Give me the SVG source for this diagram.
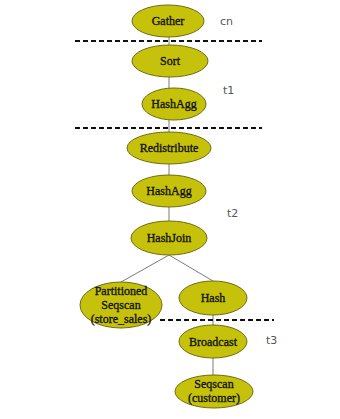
<svg xmlns="http://www.w3.org/2000/svg" width="340" height="419" viewBox="0 0 340 419">
<style>
.n ellipse{fill:#c6c20c;stroke:#6f6c10;stroke-width:1}
.n text{font-family:"Liberation Serif","Times New Roman",serif;font-size:12px;fill:#141408;stroke:#141408;stroke-width:0.35;text-anchor:middle}
.c line{stroke:#7a7a7a;stroke-width:1}
.d{stroke:#111;stroke-width:2;stroke-dasharray:5 3}
.lbl{font-family:"DejaVu Sans","Liberation Sans",sans-serif;font-size:11px;fill:#555}
</style>
<rect width="340" height="419" fill="#fff"/>
<g id="connectors" class="c">
<line x1="169" y1="37" x2="169" y2="45"/>
<line x1="169" y1="77" x2="169" y2="88"/>
<line x1="169" y1="120" x2="169" y2="132"/>
<line x1="169" y1="164" x2="169" y2="175"/>
<line x1="169" y1="207" x2="169" y2="221"/>
<line x1="169" y1="255" x2="121" y2="282"/>
<line x1="169" y1="255" x2="213" y2="281"/>
<line x1="213" y1="315" x2="213" y2="325"/>
<line x1="213" y1="358" x2="213" y2="375"/>
</g>
<g id="dividers">
<line class="d" x1="75" y1="41" x2="262" y2="41"/>
<line class="d" x1="75" y1="128" x2="262" y2="128"/>
<line class="d" x1="160" y1="320" x2="274" y2="320"/>
</g>
<g id="gather" class="n"><ellipse cx="168" cy="21" rx="36" ry="16"/><text x="168" y="25">Gather</text></g>
<g id="sort" class="n"><ellipse cx="170" cy="61" rx="38" ry="16"/><text x="170" y="65">Sort</text></g>
<g id="hashagg1" class="n"><ellipse cx="174" cy="104" rx="32" ry="16"/><text x="174" y="108">HashAgg</text></g>
<g id="redistribute" class="n"><ellipse cx="169" cy="148" rx="42" ry="16"/><text x="169" y="152">Redistribute</text></g>
<g id="hashagg2" class="n"><ellipse cx="169" cy="191" rx="37" ry="16"/><text x="169" y="195">HashAgg</text></g>
<g id="hashjoin" class="n"><ellipse cx="169" cy="238" rx="38" ry="17"/><text x="169" y="242">HashJoin</text></g>
<g id="partitioned" class="n"><ellipse cx="121" cy="305" rx="41" ry="23"/><text x="121" y="295">Partitioned</text><text x="121" y="309">Seqscan</text><text x="121" y="323">(store_sales)</text></g>
<g id="hash" class="n"><ellipse cx="213" cy="298" rx="34" ry="17"/><text x="213" y="302">Hash</text></g>
<g id="broadcast" class="n"><ellipse cx="213" cy="341.5" rx="34" ry="16.5"/><text x="213" y="345.5">Broadcast</text></g>
<g id="seqscan" class="n"><ellipse cx="214" cy="391.5" rx="39" ry="16.5"/><text x="214" y="388">Seqscan</text><text x="214" y="402">(customer)</text></g>
<g id="labels">
<text class="lbl" x="220" y="25">cn</text>
<text class="lbl" x="223" y="94">t1</text>
<text class="lbl" x="227" y="217">t2</text>
<text class="lbl" x="266" y="344">t3</text>
</g>
</svg>
